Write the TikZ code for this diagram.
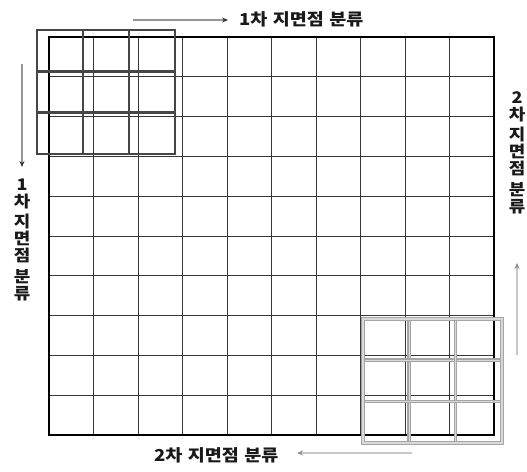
\documentclass[tikz,border=0pt]{standalone}
\usepackage{fontspec}
\newfontfamily\kr{Noto Sans CJK KR}[BoldFont={* Black}, FakeStretch=1.12, WordSpace=1.3]
\usetikzlibrary{arrows.meta}
\definecolor{gridc}{RGB}{55,55,55}
\definecolor{winA}{RGB}{70,70,70}
\definecolor{winB}{RGB}{165,165,165}
\definecolor{arrA}{RGB}{150,150,150}
\definecolor{arrB}{RGB}{200,200,200}
\tikzset{
  gridline/.style={draw=gridc, line width=1pt},
  border/.style={draw=black, line width=1.8pt},
  winone/.style={draw=winA, line width=2.8pt},
  wintwo/.style={draw=winB, line width=1.2pt, double=black!15, double distance=1.3pt},
  flowA/.style={draw=arrA, line width=1.3pt, -{Stealth[length=6pt,width=5pt,color=black!80]}},
  flowB/.style={draw=arrB, line width=1.3pt, -{Stealth[length=6pt,width=5pt,color=black!45]}},
  lab/.style={font=\kr\bfseries\fontsize{16.5}{17}\selectfont, inner sep=0pt, text=black!90},
  vlab/.style={lab, align=center, font=\kr\bfseries\fontsize{16}{17}\selectfont}
}
\begin{document}
\begin{tikzpicture}[x=1pt,y=-1pt]
\useasboundingbox (0,0) rectangle (527,471);
% grid 10 x 10
\foreach \i in {1,...,9}{
  \draw[gridline] ({49+44.5*\i},37) -- ({49+44.5*\i},435);
  \draw[gridline] (49,{37+39.8*\i}) -- (494,{37+39.8*\i});
}
\draw[border] (49,37) rectangle (494,435);
% first window (top-left)
\foreach \i in {1,2}{
  \draw[winone] ({37+46*\i},30) -- ({37+46*\i},154);
  \draw[winone] (37,{30+41.3*\i}) -- (175,{30+41.3*\i});
}
\draw[winone] (37,30) rectangle (175,154);
% second window (bottom-right)
\foreach \i in {1,2}{
  \draw[wintwo] ({363+46.3*\i},319) -- ({363+46.3*\i},443);
  \draw[wintwo] (363,{319+41.3*\i}) -- (502,{319+41.3*\i});
}
\draw[wintwo] (363,319) rectangle (502,443);
% labels
\node[lab, anchor=west] (top) at (239,19) {1차 지면점 분류};
\node[lab, anchor=west] (bot) at (154,455) {2차 지면점 분류};
\node[vlab, anchor=north] (left) at (22,179) {1\\차\\[3pt]지\\면\\점\\[4pt]분\\류};
\node[vlab, anchor=north] (right) at (517,91) {2\\차\\[3pt]지\\면\\점\\[4pt]분\\류};
% arrows
\coordinate (t1) at (133,20); \coordinate (t2) at (228,20);
\coordinate (l1) at (22,64);  \coordinate (l2) at (22,167);
\coordinate (b1) at (412,453); \coordinate (b2) at (297,453);
\coordinate (r1) at (517,355); \coordinate (r2) at (517,263);
\draw[flowA] (t1) -- (t2);
\draw[flowA] (l1) -- (l2);
\draw[flowB] (b1) -- (b2);
\draw[flowB] (r1) -- (r2);
\end{tikzpicture}
\end{document}
